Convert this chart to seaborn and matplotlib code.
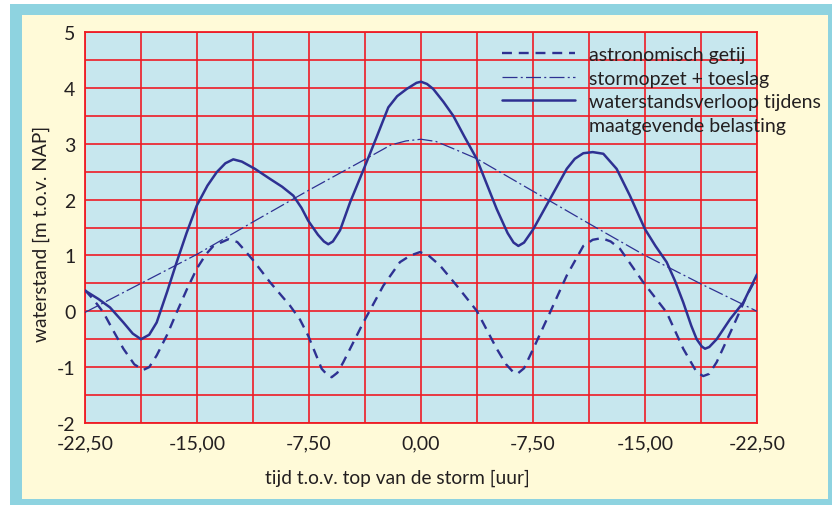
import matplotlib
matplotlib.use("Agg")
import matplotlib.pyplot as plt
import seaborn as sns
import pandas as pd
from matplotlib.patches import Rectangle
from matplotlib.lines import Line2D

# tijd t.o.v. top van de storm [uur] en waterstand [m t.o.v. NAP]
t_getij = [-22.5, -21.9, -21.27, -20.6, -19.93, -19.2, -18.6, -18.2, -17.7, -17.0,
           -16.36, -15.7, -15.02, -14.4, -13.9, -12.9, -12.3, -11.9, -11.23, -10.11,
           -8.77, -8.1, -7.55, -6.65, -6.2, -5.98, -5.6, -5.2, -3.86, -2.52,
           -1.41, -0.7, -0.07, 0.5, 1.27, 2.39, 3.73, 5.07, 5.7, 6.18,
           6.45, 6.9, 7.52, 8.64, 9.76, 10.87, 11.5, 12.1, 12.7, 13.32,
           14.88, 16.45, 17.56, 18.46, 18.9, 19.3, 19.8, 20.92, 21.81, 22.5]
h_getij = [0.38, 0.2, -0.02, -0.35, -0.67, -0.95, -1.05, -1.0, -0.79, -0.42,
           -0.02, 0.38, 0.76, 1.02, 1.17, 1.29, 1.24, 1.12, 0.91, 0.52,
           0.10, -0.15, -0.44, -1.03, -1.16, -1.18, -1.10, -0.91, -0.20, 0.46,
           0.88, 1.0, 1.06, 1.0, 0.82, 0.46, 0.01, -0.67, -0.95, -1.09,
           -1.12, -1.02, -0.67, -0.02, 0.64, 1.17, 1.28, 1.31, 1.25, 1.12,
           0.52, -0.02, -0.67, -1.09, -1.16, -1.12, -0.91, -0.26, 0.28, 0.62]

t_opzet = [-22.5, -18.75, -15.0, -11.25, -7.5, -3.75, -2.0, -1.0, 0.0,
           1.0, 2.0, 3.75, 7.5, 11.25, 15.0, 18.75, 22.5]
h_opzet = [-0.02, 0.5, 1.02, 1.6, 2.17, 2.72, 2.98, 3.05, 3.08,
           3.04, 2.93, 2.73, 2.15, 1.57, 1.0, 0.49, 0.0]

t_totaal = [-22.5, -21.6, -20.83, -19.93, -19.3, -18.75, -18.2, -17.7, -17.0, -16.36,
            -15.7, -15.02, -14.3, -13.68, -13.1, -12.57, -12.0, -11.12, -10.11, -9.3,
            -8.55, -8.0, -7.55, -6.9, -6.5, -6.21, -5.9, -5.42, -4.75, -3.75, -3.0,
            -2.19, -1.6, -0.96, -0.3, 0.0, 0.4, 0.82, 1.5, 2.16, 2.9,
            3.73, 4.4, 5.07, 5.8, 6.2, 6.52, 6.9, 7.52, 8.64, 9.76, 10.3,
            10.87, 11.5, 12.21, 13.1, 13.99, 15.0, 15.7, 16.45, 17.0, 17.56,
            18.1, 18.46, 18.8, 19.02, 19.3, 19.8, 20.7, 21.59, 22.5]
h_totaal = [0.37, 0.22, 0.07, -0.20, -0.40, -0.50, -0.42, -0.20, 0.35, 0.88,
            1.40, 1.89, 2.25, 2.49, 2.65, 2.72, 2.68, 2.55, 2.37, 2.23,
            2.07, 1.85, 1.62, 1.37, 1.25, 1.20, 1.25, 1.45, 1.95, 2.60, 3.10,
            3.65, 3.85, 3.98, 4.09, 4.11, 4.07, 3.98, 3.75, 3.50, 3.13,
            2.73, 2.28, 1.83, 1.40, 1.23, 1.17, 1.23, 1.47, 2.01, 2.55, 2.73,
            2.83, 2.85, 2.82, 2.55, 2.07, 1.47, 1.17, 0.88, 0.55, 0.16,
            -0.26, -0.50, -0.63, -0.67, -0.64, -0.50, -0.14, 0.16, 0.66]

x_ticks = [-22.5, -15.0, -7.5, 0.0, 7.5, 15.0, 22.5]
x_ticklabels = ["-22,50", "-15,00", "-7,50", "0,00", "-7,50", "-15,00", "-22,50"]
y_ticks = [-2, -1, 0, 1, 2, 3, 4, 5]
y_ticklabels = ["-2", "-1", "0", "1", "2", "3", "4", "5"]

labels = ["astronomisch getij", "stormopzet + toeslag",
          "waterstandsverloop tijdens", "maatgevende belasting"]

NAVY = "#2e3192"
RED = "#ee1c25"
PLOT_BG = "#c7e7ee"
PAPER = "#fffad8"
FRAME = "#8ed3e0"
TEXT = "#231f20"

sns.set_theme(style="white")
plt.rcParams["font.family"] = ["Lato", "DejaVu Sans"]

W, H = 832, 506
fig = plt.figure(figsize=(W / 100, H / 100), dpi=100, facecolor="white")
fig.patches.append(Rectangle((10 / W, 0), 822 / W, 501 / H, transform=fig.transFigure,
                             facecolor=FRAME, edgecolor="none", zorder=-3))
fig.patches.append(Rectangle((22 / W, 6 / H), 806 / W, 484 / H, transform=fig.transFigure,
                             facecolor=PAPER, edgecolor="none", zorder=-2))

ax = fig.add_axes([85 / W, 82 / H, 672 / W, 391 / H])
ax.set_facecolor(PLOT_BG)

getij = pd.DataFrame({"tijd": t_getij, "waterstand": h_getij})
opzet = pd.DataFrame({"tijd": t_opzet, "waterstand": h_opzet})
totaal = pd.DataFrame({"tijd": t_totaal, "waterstand": h_totaal})

dash_getij = (0, (4.2, 2.9))
dash_opzet = (0, (12, 2.6, 1.6, 2.6))

sns.lineplot(data=getij, x="tijd", y="waterstand", ax=ax, color=NAVY, lw=1.7,
             linestyle=dash_getij, sort=False, estimator=None, zorder=3)
sns.lineplot(data=opzet, x="tijd", y="waterstand", ax=ax, color=NAVY, lw=0.9,
             linestyle=dash_opzet, sort=False, estimator=None, zorder=3)
sns.lineplot(data=totaal, x="tijd", y="waterstand", ax=ax, color=NAVY, lw=1.8,
             sort=False, estimator=None, zorder=4)

ax.set_xlim(-22.5, 22.5)
ax.set_ylim(-2, 5)
ax.set_xticks(x_ticks)
ax.set_xticklabels(x_ticklabels)
ax.set_xticks([-18.75, -11.25, -3.75, 3.75, 11.25, 18.75], minor=True)
ax.set_yticks(y_ticks)
ax.set_yticklabels(y_ticklabels)
ax.set_yticks([-1.5, -0.5, 0.5, 1.5, 2.5, 3.5, 4.5], minor=True)
ax.grid(True, which="both", color=RED, lw=1.2)
ax.set_axisbelow(True)
ax.tick_params(which="both", length=0, labelsize=14, labelcolor=TEXT)
ax.tick_params(axis="x", pad=8.5)
ax.tick_params(axis="y", pad=7)
for s in ax.spines.values():
    s.set_color(RED)
    s.set_linewidth(1.3)

ax.set_xlabel("tijd t.o.v. top van de storm [uur]", fontsize=13.8, color=TEXT, labelpad=12)
ax.set_ylabel("waterstand [m t.o.v. NAP]", fontsize=13.8, color=TEXT, labelpad=5)
ax.xaxis.label.set_x(0.465)
ax.yaxis.label.set_y(0.486)

handles = [Line2D([], [], color=NAVY, lw=1.7, linestyle=dash_getij),
           Line2D([], [], color=NAVY, lw=0.9, linestyle=dash_opzet),
           Line2D([], [], color=NAVY, lw=1.8),
           Line2D([], [], color="none")]
leg = ax.legend(handles, labels, loc="upper left", frameon=False, fontsize=14,
                handlelength=3.76, handletextpad=0.72, labelspacing=0.34,
                borderpad=0, borderaxespad=0,
                bbox_to_anchor=(502 / W, (H - 47) / H), bbox_transform=fig.transFigure)
for txt in leg.get_texts():
    txt.set_color(TEXT)

fig.savefig("out.png", dpi=100, facecolor=fig.get_facecolor())
